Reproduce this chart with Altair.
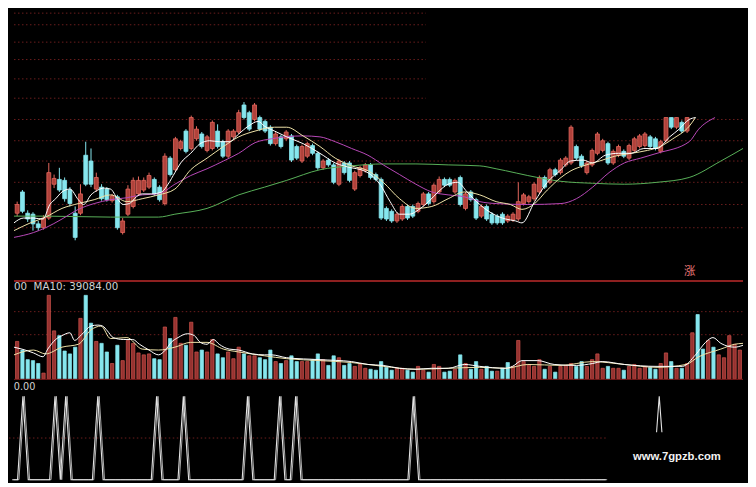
import altair as alt
import pandas as pd

# ---------------- data ----------------
# candle direction: R = up (red), C = down (cyan)
candle_dir = ("RCCCCRRRCC" "CCRCCRCCRC" "RRRRRRCCRC" "RRCRRCRRCC" "RRRCCRCCCR"
              "CRCCRRCCRC" "CRCCRRRCCC" "CCRRCCRRCR" "RCCRCRCCRC" "CCCRRRRRRR"
              "CRCRRRCCRR" "RRCRRCRRRR" "CCRRCRCR")
body_hi = [77, 90, 68, 67, 57, 63, 110, 104, 103, 102,
           92, 68, 88, 128, 122, 105, 95, 93, 86, 85,
           60, 93, 102, 102, 102, 107, 103, 95, 127, 125,
           145, 142, 153, 167, 155, 150, 147, 162, 153, 142,
           153, 153, 172, 180, 172, 180, 167, 163, 157, 150,
           147, 152, 148, 137, 137, 140, 138, 130, 122, 123,
           118, 122, 120, 120, 110, 115, 118, 118, 108, 103,
           73, 70, 67, 75, 75, 75, 78, 88, 88, 97,
           103, 103, 103, 102, 105, 88, 90, 82, 75, 75,
           67, 65, 67, 65, 67, 80, 87, 85, 98, 105,
           105, 113, 113, 123, 125, 157, 137, 127, 120, 133,
           150, 143, 140, 132, 137, 132, 138, 145, 148, 150,
           147, 145, 142, 167, 167, 167, 162, 167]
body_lo = [68, 70, 62, 57, 53, 53, 63, 98, 92, 83,
           78, 43, 68, 98, 98, 93, 83, 82, 81, 53,
           48, 67, 75, 88, 92, 95, 88, 82, 78, 108,
           113, 135, 132, 135, 145, 137, 133, 135, 137, 127,
           127, 147, 152, 167, 155, 165, 155, 153, 140, 140,
           137, 145, 123, 125, 122, 127, 130, 115, 115, 118,
           100, 98, 110, 102, 93, 107, 112, 105, 103, 63,
           62, 60, 60, 62, 63, 65, 70, 77, 78, 80,
           90, 97, 97, 90, 77, 73, 82, 63, 65, 62,
           58, 58, 58, 60, 61, 62, 78, 80, 83, 90,
           95, 100, 108, 110, 118, 120, 125, 117, 110, 118,
           130, 133, 120, 120, 128, 127, 125, 133, 137, 138,
           137, 135, 132, 143, 157, 157, 153, 153]
high = [80, 92, 71, 69, 60, 66, 120, 108, 115, 105,
        95, 75, 98, 142, 135, 110, 98, 95, 88, 87,
        63, 97, 105, 106, 105, 110, 105, 97, 130, 127,
        147, 144, 155, 169, 158, 152, 149, 164, 160, 144,
        155, 155, 175, 183, 174, 182, 169, 165, 159, 152,
        149, 154, 150, 139, 139, 142, 140, 132, 124, 125,
        120, 124, 122, 122, 112, 117, 120, 120, 110, 105,
        75, 72, 69, 77, 77, 77, 80, 90, 90, 99,
        106, 105, 105, 104, 107, 90, 92, 84, 77, 77,
        69, 67, 69, 67, 69, 100, 89, 87, 100, 107,
        107, 115, 115, 125, 127, 159, 139, 129, 122, 135,
        152, 145, 142, 134, 139, 134, 140, 147, 150, 152,
        149, 147, 144, 167, 167, 167, 164, 167]
low = [65, 68, 59, 50, 50, 51, 61, 94, 90, 80,
       75, 40, 66, 96, 95, 90, 81, 80, 79, 51,
       46, 65, 73, 86, 90, 93, 86, 80, 76, 106,
       111, 133, 130, 133, 143, 135, 131, 133, 135, 125,
       125, 145, 150, 165, 153, 163, 153, 151, 138, 138,
       135, 143, 121, 123, 120, 125, 128, 113, 113, 116,
       98, 96, 108, 100, 91, 105, 110, 103, 101, 61,
       60, 58, 58, 60, 61, 63, 68, 75, 76, 78,
       88, 95, 95, 88, 75, 71, 80, 61, 63, 60,
       56, 56, 56, 58, 59, 60, 76, 78, 81, 88,
       93, 98, 106, 108, 116, 118, 123, 115, 108, 116,
       128, 131, 118, 118, 126, 125, 123, 131, 135, 136,
       135, 133, 130, 141, 155, 155, 151, 151]

volume = [39, 30, 20, 19, 16, 6, 87, 50, 45, 29,
          26, 33, 63, 87, 58, 39, 37, 28, 16, 35,
          19, 40, 37, 27, 25, 26, 21, 20, 54, 42,
          64, 37, 35, 59, 28, 30, 28, 41, 26, 22,
          28, 21, 33, 26, 24, 24, 22, 20, 30, 18,
          16, 19, 24, 18, 18, 18, 20, 26, 20, 14,
          24, 22, 14, 16, 13, 15, 11, 10, 9, 18,
          12, 9, 11, 11, 9, 7, 13, 9, 7, 15,
          13, 7, 8, 10, 25, 16, 10, 18, 10, 13,
          8, 8, 11, 17, 13, 40, 18, 15, 13, 20,
          10, 13, 7, 13, 14, 16, 13, 18, 13, 20,
          26, 11, 13, 11, 11, 9, 13, 15, 11, 13,
          12, 10, 16, 27, 18, 11, 11, 16, 48, 67,
          31, 40, 33, 25, 22, 45, 36, 30]
volume_dir = ("RCCCCRRRCC" "CCRCCRCCRC" "RRRRRRCCRC" "RRCRRCRRCC" "RRRCRRCCCR"
              "CRCCRRCCRC" "CRCCRRRCCC" "CCRRCCRRCR" "RCCRCRCCRC" "CRCCRRRRRR"
              "CRCRRRCCRR" "RRCRRCRRRR" "CCRRCRCRRC" "CRCRRRRR")

# price moving averages (day, value)
ma5_day = [-0.6, 1.2, 3.1, 4.9, 6.2, 7.3, 8.5, 10.0, 11.6, 12.6, 14.0, 15.3, 16.4, 17.7, 19.0,
           20.1, 21.3, 22.6, 23.7, 25.5, 27.4, 28.6, 29.9, 31.0, 32.9, 34.7, 36.5, 38.3, 40.2,
           42.0, 43.8, 45.7, 46.9, 48.8, 51.1, 54.2, 57.4, 60.3, 63.4, 65.2, 67.0, 68.9, 70.7,
           72.5, 74.4, 76.2, 78.0, 79.8, 81.7, 83.5, 85.3, 87.7, 90.3, 92.6, 94.5, 95.7, 98.1,
           100.5, 103.1, 104.9, 107.3, 109.1, 111.5, 114.0, 116.4, 118.8, 121.3, 123.7, 125.5,
           127.4, 128.6]
ma5_val = [58, 63, 63, 62, 77, 83, 90, 93, 82, 77, 87, 92, 94, 93, 83,
           77, 78, 85, 88, 88, 90, 98, 110, 120, 130, 140, 143, 142, 142,
           150, 158, 163, 158, 153, 147, 140, 130, 120, 115, 113, 108, 97, 80,
           67, 67, 72, 80, 90, 98, 100, 90, 77, 67, 62, 60, 58, 80,
           100, 113, 122, 123, 120, 128, 130, 130, 135, 135, 147, 155,
           165, 167]
ma10_day = [-0.6, 2.5, 5.4, 8.5, 11.6, 14.6, 17.7, 20.8, 23.7, 26.8, 29.9, 32.9, 36.0, 39.1,
            42.0, 45.1, 48.8, 51.1, 54.2, 57.4, 60.3, 63.4, 66.5, 69.4, 72.5, 75.6, 78.6, 81.7,
            84.8, 87.7, 90.8, 93.5, 95.7, 98.1, 100.5, 103.1, 105.0, 107.3, 110.4, 113.3, 116.4,
            119.5, 121.9, 124.3, 127.4, 128.6]
ma10_val = [50, 58, 64, 73, 78, 82, 87, 80, 83, 87, 93, 113, 125, 137,
            147, 153, 157, 157, 148, 137, 125, 117, 112, 100, 83, 73, 75, 83,
            90, 87, 80, 77, 72, 78, 92, 105, 112, 117, 122, 127, 130,
            133, 137, 145, 158, 167]
ma20_day = [-0.6, 3.1, 5.4, 8.5, 11.6, 14.6, 17.7, 20.8, 23.7, 26.8, 29.9, 32.9, 36.0, 39.1,
            42.0, 45.1, 48.2, 54.2, 57.4, 60.3, 63.4, 66.5, 69.4, 72.5, 75.6, 78.6, 81.7, 84.8,
            87.7, 90.8, 96.8, 103.1, 106.0, 109.1, 112.2, 115.1, 118.2, 121.3, 127.4, 129.2, 132.3]
ma20_val = [43, 48, 53, 62, 72, 78, 82, 84, 87, 88, 98, 107, 114, 122,
            130, 141, 145, 148, 147, 142, 135, 128, 118, 108, 98, 90, 87, 85,
            80, 78, 77, 78, 83, 95, 110, 120, 125, 130, 142, 155, 167]
ma60_day = [-0.6, 5.4, 17.7, 26.8, 29.9, 36.0, 42.0, 46.9, 51.1, 57.4, 63.4, 69.4, 75.6,
            81.7, 87.7, 90.8, 92.6, 96.8, 103.1, 109.1, 115.1, 121.3, 127.4, 133.4, 137.6]
ma60_val = [65, 65, 64, 64, 67, 73, 87, 95, 102, 113, 117, 119, 119,
            118, 117, 114, 112, 107, 101, 99, 98, 100, 105, 122, 135]

# volume moving averages
vma5_day = [-0.6, 0.9, 3.1, 4.9, 5.8, 7.3, 8.5, 10.0, 10.9, 12.2, 14.0, 15.3, 16.2, 17.1, 18.2,
            20.1, 21.9, 23.2, 25.0, 26.8, 28.1, 29.2, 30.5, 32.3, 33.6, 34.7, 36.0, 37.2, 38.3,
            40.2, 42.0, 44.6, 46.9, 48.2, 51.1, 57.4, 63.4, 66.5, 69.4, 72.5, 75.6, 78.6, 81.7,
            84.8, 87.7, 92.6, 93.9, 95.7, 98.7, 101.8, 106.0, 109.1, 110.9, 115.1, 121.3, 126.1,
            128.6, 130.5, 131.9, 133.4, 136.0, 137.6]
vma5_val = [33, 31, 27, 23, 31, 41, 45, 48, 40, 46, 55, 56, 55, 50, 43,
            41, 41, 36, 30, 25, 30, 38, 43, 47, 45, 38, 36, 41, 36,
            31, 30, 26, 25, 25, 22, 20, 18, 15, 14, 11, 10, 11, 11,
            15, 13, 11, 13, 19, 19, 15, 14, 16, 18, 15, 13, 13,
            25, 38, 43, 37, 33, 35]
vma10_day = [-0.6, 3.1, 5.4, 8.5, 11.6, 14.0, 15.9, 17.7, 20.8, 23.7, 26.8, 29.9, 32.9, 36.0,
             39.1, 42.0, 46.9, 51.1, 57.4, 63.4, 69.4, 75.6, 81.7, 87.7, 92.6, 96.8, 103.1,
             109.1, 115.1, 121.3, 126.8, 129.2, 133.4, 136.0, 137.6]
vma10_val = [25, 30, 26, 33, 36, 51, 55, 42, 43, 31, 30, 33, 38, 38,
             31, 28, 24, 21, 19, 17, 13, 10, 11, 12, 11, 15, 14,
             18, 15, 12, 15, 23, 31, 36, 37]

# bottom indicator: spikes to 100 on these days, 0 elsewhere
spike_days = [2, 8, 10, 16, 27, 32, 44, 50, 53, 75]
indicator_last_day = 111
partial_spike_day = [120.5, 121, 121.5]
partial_spike_val = [57, 100, 57]

price_grid_left = [275, 263, 245, 227, 207, 187]
price_grid_full = [165, 143, 122, 100, 77, 53]
volume_grid = [70, 46]

vol_label = "00\u00a0\u00a0MA10: 39084.00"
ind_label = "0.00"
watermark = "www.7gpzb.com"
zhang = "涨"

# ---------------- styles ----------------
W = 740
RED_FILL, RED_EDGE, CYAN = "#b0423b", "#e4675d", "#86e6ee"
VRED_FILL, VRED_EDGE = "#963230", "#cf534c"
GRID = "#6a1d1d"

X = alt.Scale(domain=[-0.6, 137.6], nice=False, zero=False)


def xq(f):
    return alt.X(f, type="quantitative", scale=X, axis=None)


PY = alt.Scale(domain=[0, 280], nice=False, zero=False)
VY = alt.Scale(domain=[-1, 103], nice=False, zero=False)
IY = alt.Scale(domain=[-1.16, 118.6], nice=False, zero=False)

# ---------------- price panel ----------------
gdf = pd.DataFrame(
    [{"y": v, "x0": -0.6, "x1": 77.5} for v in price_grid_left]
    + [{"y": v, "x0": -0.6, "x1": 137.6} for v in price_grid_full]
)
pgrid = alt.Chart(gdf).mark_rule(color=GRID, strokeDash=[1.5, 2.5], strokeWidth=1).encode(
    x=xq("x0"), x2="x1", y=alt.Y("y:Q", scale=PY, axis=None))

rows = []
for i, d in enumerate(candle_dir):
    up = d == "R"
    rows.append({"day": i, "dir": d,
                 "open": body_lo[i] if up else body_hi[i],
                 "close": body_hi[i] if up else body_lo[i],
                 "high": high[i], "low": low[i]})
cdf = pd.DataFrame(rows)
dscale = alt.Scale(domain=["R", "C"], range=[RED_EDGE, CYAN])
fscale = alt.Scale(domain=["R", "C"], range=[RED_FILL, CYAN])
wicks = alt.Chart(cdf).mark_rule(strokeWidth=1).encode(
    x=xq("day"), y=alt.Y("low:Q", scale=PY, axis=None), y2="high:Q",
    color=alt.Color("dir:N", scale=dscale, legend=None))
bodies = alt.Chart(cdf).mark_bar(size=3.9, strokeWidth=0.8).encode(
    x=xq("day"), y=alt.Y("open:Q", scale=PY, axis=None), y2="close:Q",
    fill=alt.Fill("dir:N", scale=fscale, legend=None),
    stroke=alt.Stroke("dir:N", scale=dscale, legend=None))


def line(days, vals, color, ys, width=1.0):
    df = pd.DataFrame({"day": days, "v": vals})
    return alt.Chart(df).mark_line(color=color, strokeWidth=width, interpolate="monotone").encode(
        x=xq("day"), y=alt.Y("v:Q", scale=ys, axis=None))


ma60 = line(ma60_day, ma60_val, "#58b058", PY)
ma20 = line(ma20_day, ma20_val, "#b848b8", PY)
ma10 = line(ma10_day, ma10_val, "#eee2a8", PY)
ma5 = line(ma5_day, ma5_val, "#ffffff", PY)

zdf = pd.DataFrame({"day": [127.5], "v": [7.5], "t": [zhang]})
ztext = alt.Chart(zdf).mark_text(color="#ea7a7a", fontSize=11.5, font="Noto Sans CJK SC",
                                 baseline="middle", align="center").encode(
    x=xq("day"), y=alt.Y("v:Q", scale=PY, axis=None), text="t:N")

price = alt.layer(pgrid, wicks, bodies, ma60, ma20, ma10, ma5, ztext).properties(width=W, height=271)

# ---------------- volume panel ----------------
vgdf = pd.DataFrame({"y": volume_grid, "x0": -0.6, "x1": 137.6})
vgrid = alt.Chart(vgdf).mark_rule(color=GRID, strokeDash=[1.5, 2.5], strokeWidth=1).encode(
    x=xq("x0"), x2="x1", y=alt.Y("y:Q", scale=VY, axis=None))
vdf = pd.DataFrame({"day": list(range(len(volume))), "vol": volume,
                    "base": 0, "dir": list(volume_dir)})
vfill = alt.Scale(domain=["R", "C"], range=[VRED_FILL, CYAN])
vedge = alt.Scale(domain=["R", "C"], range=[VRED_EDGE, CYAN])
vbars = alt.Chart(vdf).mark_bar(size=3.3, strokeWidth=0.7).encode(
    x=xq("day"), y=alt.Y("vol:Q", scale=VY, axis=None), y2="base:Q",
    fill=alt.Fill("dir:N", scale=vfill, legend=None),
    stroke=alt.Stroke("dir:N", scale=vedge, legend=None))
vma10 = line(vma10_day, vma10_val, "#eee2a8", VY)
vma5 = line(vma5_day, vma5_val, "#ffffff", VY)
sep = alt.Chart(pd.DataFrame({"y": [102.0], "x0": [-0.6], "x1": [137.6]})).mark_rule(
    color="#8e2020", strokeWidth=2).encode(x=xq("x0"), x2="x1", y=alt.Y("y:Q", scale=VY, axis=None))
vbase = alt.Chart(pd.DataFrame({"y": [-0.5], "x0": [-0.6], "x1": [137.6]})).mark_rule(
    color="#7a1a1a", strokeWidth=1).encode(x=xq("x0"), x2="x1", y=alt.Y("y:Q", scale=VY, axis=None))
vlab = alt.Chart(pd.DataFrame({"day": [-0.6], "v": [96], "t": [vol_label]})).mark_text(
    align="left", baseline="middle", color="#d2d2d2", fontSize=10.3, font="DejaVu Sans").encode(
    x=xq("day"), y=alt.Y("v:Q", scale=VY, axis=None), text="t:N")

volpanel = alt.layer(vgrid, vbars, vbase, vma10, vma5, sep, vlab).properties(width=W, height=100)

# ---------------- indicator panel ----------------
idays = list(range(0, indicator_last_day + 1))
idf = pd.DataFrame({"day": idays, "v": [100 if d in spike_days else 0 for d in idays]})
mid = alt.Chart(pd.DataFrame({"y": [50], "x0": [-0.6], "x1": [111.0]})).mark_rule(
    color=GRID, strokeDash=[1.5, 2.5], strokeWidth=1).encode(
    x=xq("x0"), x2="x1", y=alt.Y("y:Q", scale=IY, axis=None))
spk1 = alt.Chart(idf).mark_line(color="#e4e4e4", strokeWidth=1.1).encode(
    x=xq("day"), y=alt.Y("v:Q", scale=IY, axis=None))
spk2 = alt.Chart(idf).mark_line(color="#bdbdbd", strokeWidth=0.9, xOffset=1.4).encode(
    x=xq("day"), y=alt.Y("v:Q", scale=IY, axis=None))
pdf = pd.DataFrame({"day": partial_spike_day, "v": partial_spike_val})
pspk = alt.Chart(pdf).mark_line(color="#e4e4e4", strokeWidth=1.1).encode(
    x=xq("day"), y=alt.Y("v:Q", scale=IY, axis=None))
ilab = alt.Chart(pd.DataFrame({"day": [0.3], "v": [111], "t": [ind_label]})).mark_text(
    align="left", baseline="middle", color="#d2d2d2", fontSize=9.7, font="DejaVu Sans").encode(
    x=xq("day"), y=alt.Y("v:Q", scale=IY, axis=None), text="t:N")
wm = alt.Chart(pd.DataFrame({"day": [124.3], "v": [27.3], "t": [watermark]})).mark_text(
    align="center", baseline="middle", color="#f2f2f2", fontSize=11.3, fontWeight="bold",
    font="Liberation Sans").encode(
    x=xq("day"), y=alt.Y("v:Q", scale=IY, axis=None), text="t:N")

indpanel = alt.layer(mid, spk2, spk1, pspk, ilab, wm).properties(width=W, height=100)

chart = alt.vconcat(price, volpanel, indpanel, spacing=0).resolve_scale(
    x="independent", y="independent", color="independent",
    fill="independent", stroke="independent"
).properties(background="#000000", padding=0).configure_view(stroke=None)

chart.save("out.html", embed_options={"renderer": "svg", "actions": False})
